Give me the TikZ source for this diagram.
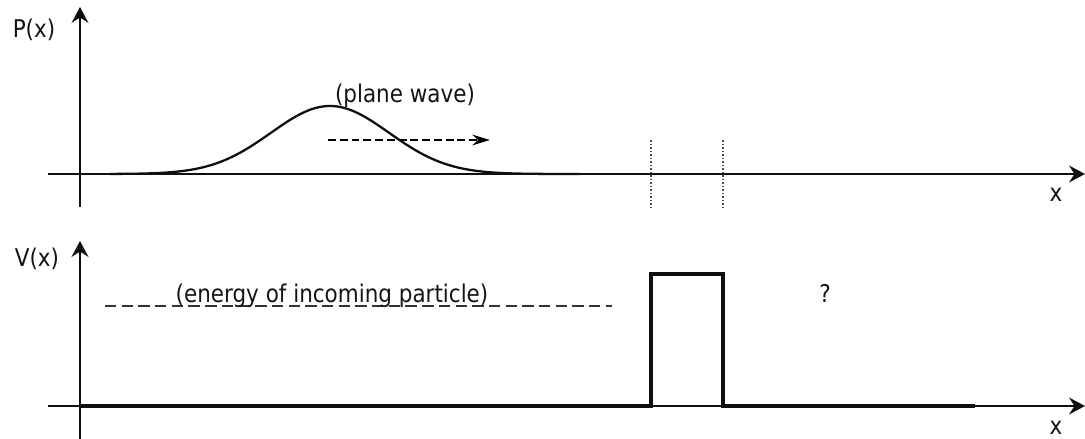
\documentclass[tikz,border=0pt]{standalone}
\usepackage{fontspec}
\setmainfont{DejaVu Sans}[FakeStretch=0.88]
\usetikzlibrary{arrows.meta,positioning}
\definecolor{AxisBlack}{RGB}{15,15,15}
\definecolor{DotGray}{RGB}{80,80,80}

\begin{document}
\begin{tikzpicture}[x=0.02cm,y=0.02cm,>={Stealth[length=9pt,width=9.5pt,inset=3pt]},font=\fontsize{13.9}{16}\selectfont]
  \tikzset{axis/.style={->,line width=1.5pt,AxisBlack},
    lbl/.style={inner sep=0pt,anchor=base,text=black!92}}
  \useasboundingbox (0,0) rectangle (1085,439);
  % upper panel: probability
  \coordinate (PL) at (48,265);
  \coordinate (PR) at (1085,265);
  \coordinate (PB) at (80,232);
  \coordinate (PT) at (80,432);
  \draw[axis] (PL)--(PR);
  \draw[axis] (PB)--(PT);
  \draw[line width=1.3pt,AxisBlack] plot[domain=110:580,samples=120,smooth] (\x,{265+68*exp(-0.5*((\x-330)/59)^2)});
  \coordinate (WS) at (328,299);
  \coordinate (WE) at (490,299);
  \draw[-{Stealth[length=10pt,width=6pt]},line width=1.6pt,dash pattern=on 4.5pt off 2.2pt] (WS)--(WE);
  \node[lbl] (pw) at (405,336) {(plane wave)};
  \node[lbl] (px) at (34,401) {P(x)};
  \node[lbl] (xa) at (1056,237) {x};
  \foreach \xx/\nm in {651/DL,723/DR}{
    \coordinate (\nm a) at (\xx,299);
    \coordinate (\nm b) at (\xx,232);
    \draw[densely dotted,DotGray,line width=1pt] (\nm a)--(\nm b);
  }
  % lower panel: potential
  \coordinate (VL) at (48,33);
  \coordinate (VR) at (1085,33);
  \coordinate (VB) at (80,0);
  \coordinate (VT) at (80,198);
  \draw[axis] (VL)--(VR);
  \draw[axis] (VB)--(VT);
  \coordinate (B0) at (80,33);
  \coordinate (B1) at (651,33);
  \coordinate (B2) at (651,165);
  \coordinate (B3) at (723,165);
  \coordinate (B4) at (723,33);
  \coordinate (B5) at (975,33);
  \draw[line width=1.75pt,line join=miter,AxisBlack] (B0)--(B1)--(B2)--(B3)--(B4)--(B5);
  \coordinate (EL) at (105,133);
  \coordinate (ER) at (612,133);
  \draw[line width=1.3pt,dash pattern=on 6.5pt off 3pt,black!80] (EL)--(ER);
  \node[lbl] (en) at (332,136) {(energy of incoming particle)};
  \node[lbl] (qm) at (825,136) {?};
  \node[lbl] (vx) at (37,172) {V(x)};
  \node[lbl] (xb) at (1056,4) {x};
\end{tikzpicture}
\end{document}
